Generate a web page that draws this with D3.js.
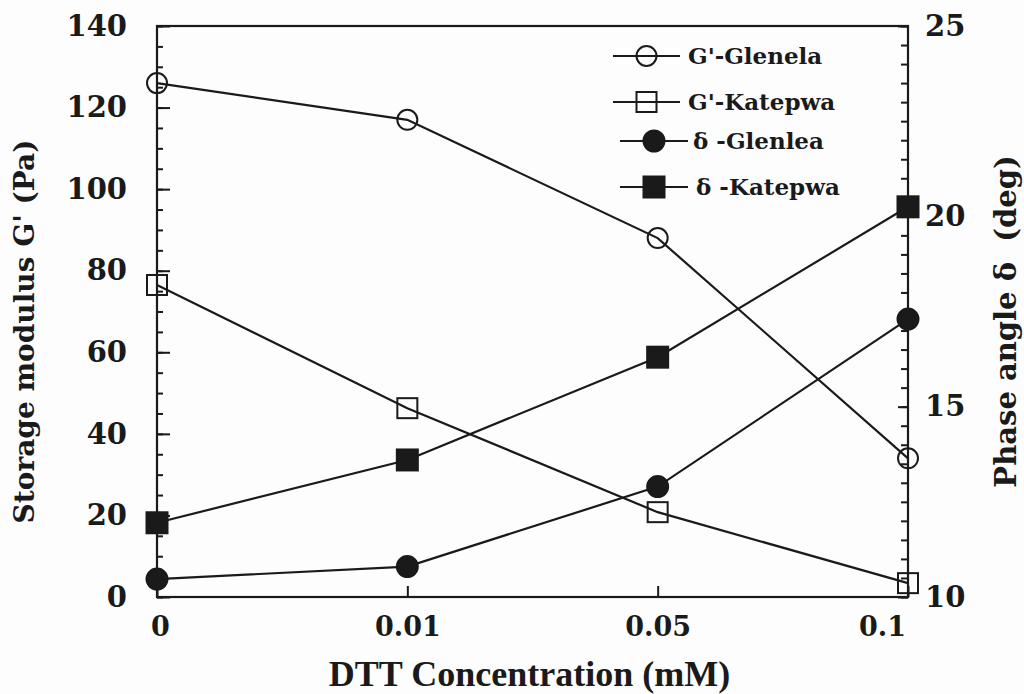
<!DOCTYPE html>
<html>
<head>
<meta charset="utf-8">
<script src="https://cdn.jsdelivr.net/npm/d3@7"></script>
<style>
  body { margin: 0; background: #fdfdfd; }
  svg { display: block; }
  .tick text { font-family: "DejaVu Serif", serif; font-weight: bold; fill: #1a1a1a; }
</style>
</head>
<body>
<svg id="chart" width="1024" height="694"></svg>
<script>
// DTT concentrations (categorical, evenly spaced)
const concentrations = ["0", "0.01", "0.05", "0.1"];

// storage modulus G' (Pa), left axis
const gGlenlea = [126, 117, 88, 34];
const gKatepwa = [76.5, 46.3, 20.8, 3.4];

// phase angle delta (deg), right axis
const dGlenlea = [10.47, 10.8, 12.9, 17.3];
const dKatepwa = [11.95, 13.6, 16.3, 20.25];

const leftTicks = [0, 20, 40, 60, 80, 100, 120, 140];
const rightTicks = [10, 15, 20, 25];

const series = [
  { name: "G'-Glenela", values: gGlenlea, axis: "left", shape: "circle", filled: false },
  { name: "G'-Katepwa", values: gKatepwa, axis: "left", shape: "square", filled: false },
  { name: "\u03b4 -Glenlea", values: dGlenlea, axis: "right", shape: "circle", filled: true },
  { name: "\u03b4 -Katepwa", values: dKatepwa, axis: "right", shape: "square", filled: true }
];

const ink = "#1a1a1a";
const plot = { left: 157, right: 908, top: 26, bottom: 597 };

const svg = d3.select("#chart");

const x = d3.scalePoint().domain(concentrations).range([plot.left, plot.right]);
const yL = d3.scaleLinear().domain([0, 140]).range([plot.bottom, plot.top]);
const yR = d3.scaleLinear().domain([10, 25]).range([plot.bottom, plot.top]);

// minor ticks
svg.append("g")
  .attr("transform", `translate(${plot.left},0)`)
  .call(d3.axisLeft(yL).tickValues(d3.range(0, 141, 5)).tickSize(-6).tickSizeOuter(0).tickFormat(""))
  .call(g => g.select(".domain").remove());
svg.append("g")
  .attr("transform", `translate(${plot.right},0)`)
  .call(d3.axisRight(yR).tickValues(d3.range(10, 25.01, 0.5)).tickSize(-7).tickSizeOuter(0).tickFormat(""))
  .call(g => g.select(".domain").remove());

// major ticks + labels
const leftAxis = svg.append("g")
  .attr("transform", `translate(${plot.left},0)`)
  .call(d3.axisLeft(yL).tickValues(leftTicks).tickSize(-13).tickPadding(30).tickSizeOuter(0))
  .call(g => g.select(".domain").remove());
leftAxis.selectAll("text").style("font-size", "29px");

const rightAxis = svg.append("g")
  .attr("transform", `translate(${plot.right},0)`)
  .call(d3.axisRight(yR).tickValues(rightTicks).tickSize(-10).tickPadding(17).tickSizeOuter(0))
  .call(g => g.select(".domain").remove());
rightAxis.selectAll("text").style("font-size", "29px");

const bottomAxis = svg.append("g")
  .attr("transform", `translate(0,${plot.bottom})`)
  .call(d3.axisBottom(x).tickSize(-11).tickPadding(20).tickSizeOuter(0))
  .call(g => g.select(".domain").remove());
bottomAxis.selectAll("text").style("font-size", "27px")
  .attr("dx", (d, i) => i === 0 ? 3 : i === concentrations.length - 1 ? -26 : 0);

svg.selectAll(".tick line").attr("stroke", ink).attr("stroke-width", 2);

// frame
svg.append("rect")
  .attr("x", plot.left).attr("y", plot.top)
  .attr("width", plot.right - plot.left).attr("height", plot.bottom - plot.top)
  .attr("fill", "none").attr("stroke", ink).attr("stroke-width", 2.2);

// lines
const lineFor = s => d3.line()
  .x((d, i) => x(concentrations[i]))
  .y(d => (s.axis === "left" ? yL : yR)(d));

svg.append("g").selectAll("path")
  .data(series)
  .join("path")
  .attr("d", s => lineFor(s)(s.values))
  .attr("fill", "none")
  .attr("stroke", ink)
  .attr("stroke-width", 2.2);

function drawMarker(g, shape, filled, cx, cy) {
  if (shape === "circle") {
    g.append("circle").attr("cx", cx).attr("cy", cy).attr("r", filled ? 10.5 : 10)
      .attr("fill", filled ? ink : "none").attr("stroke", ink).attr("stroke-width", 2);
  } else {
    const s = filled ? 21 : 20;
    g.append("rect").attr("x", cx - s / 2).attr("y", cy - s / 2).attr("width", s).attr("height", s)
      .attr("fill", filled ? ink : "none").attr("stroke", ink).attr("stroke-width", 2);
  }
}

const markers = svg.append("g");
series.forEach(s => {
  const y = s.axis === "left" ? yL : yR;
  s.values.forEach((v, i) => drawMarker(markers, s.shape, s.filled, x(concentrations[i]), y(v)));
});

// legend
const legendRows = [
  { y: 56, x0: 613, x1: 680, tx: 688 },
  { y: 102, x0: 613, x1: 680, tx: 688 },
  { y: 141, x0: 620, x1: 688, tx: 693 },
  { y: 187, x0: 620, x1: 688, tx: 696 }
];
const legend = svg.append("g");
series.forEach((s, i) => {
  const r = legendRows[i];
  legend.append("line").attr("x1", r.x0).attr("x2", r.x1).attr("y1", r.y).attr("y2", r.y)
    .attr("stroke", ink).attr("stroke-width", 2);
  drawMarker(legend, s.shape, s.filled, (r.x0 + r.x1) / 2, r.y);
  legend.append("text").attr("x", r.tx).attr("y", r.y).attr("dy", "0.35em")
    .attr("font-family", "DejaVu Serif, serif").attr("font-weight", "bold")
    .attr("font-size", 23).attr("fill", ink)
    .text(s.name);
});

// axis titles
svg.append("text")
  .attr("transform", `translate(34,${(plot.top + plot.bottom) / 2 + 20}) rotate(-90)`)
  .attr("text-anchor", "middle")
  .attr("font-family", "DejaVu Serif, serif").attr("font-weight", "bold")
  .attr("font-size", 28).attr("fill", ink)
  .text("Storage modulus G' (Pa)");

svg.append("text")
  .attr("transform", `translate(1016,${(plot.top + plot.bottom) / 2 + 10}) rotate(-90)`)
  .attr("text-anchor", "middle")
  .attr("font-family", "DejaVu Serif, serif").attr("font-weight", "bold")
  .attr("font-size", 29).attr("fill", ink)
  .attr("xml:space", "preserve")
  .text("Phase angle \u03b4  (deg)");

svg.append("text")
  .attr("x", (plot.left + plot.right) / 2 - 3)
  .attr("y", 686)
  .attr("text-anchor", "middle")
  .attr("font-family", "Liberation Serif, serif").attr("font-weight", "bold")
  .attr("font-size", 36).attr("fill", ink)
  .text("DTT Concentration (mM)");
</script>
</body>
</html>
